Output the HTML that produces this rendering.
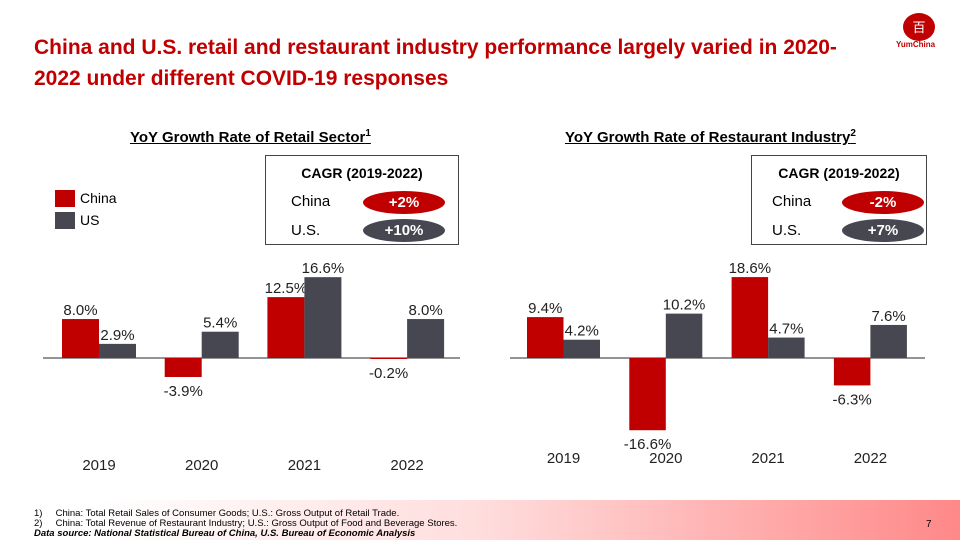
<!DOCTYPE html>
<html><head><meta charset="utf-8"><style>
body{margin:0;width:960px;height:540px;overflow:hidden;background:#fff;font-family:"Liberation Sans",Arial,sans-serif;position:relative}
.abs{position:absolute}
#title{left:34px;top:32px;width:840px;color:#c00000;font-weight:bold;font-size:21px;line-height:31px}
.ct{font-weight:bold;font-size:15px;text-decoration:underline;top:128px}
.ct sup{font-size:10px}
.box{border:1.5px solid #444;top:155px;height:88px}
.box .h{position:absolute;top:9px;left:0;right:0;text-align:center;font-weight:bold;font-size:14px}
.lbl{position:absolute;font-size:15px}
.pill{position:absolute;width:82px;height:23px;border-radius:50%;color:#fff;font-weight:bold;font-size:15px;text-align:center;line-height:23px}
#footer{left:0;top:500px;width:960px;height:40px;background:linear-gradient(90deg,#fff 10%,#fdd 50%,#f88 100%)}
.fn{font-size:9.5px;left:34px}
</style></head><body>
<div id="title" class="abs">China and U.S. retail and restaurant industry performance largely varied in 2020-2022 under different COVID-19 responses</div>
<div class="abs" style="left:903px;top:13px;width:32px;height:28px;border-radius:50%;background:#c00000;color:#fff;font-size:13px;text-align:center;line-height:28px;font-family:'Noto Sans CJK SC',sans-serif">百</div>
<div class="abs" style="left:896px;top:40px;font-size:8px;font-weight:bold;color:#c00000">YumChina</div>

<div class="abs ct" style="left:130px">YoY Growth Rate of Retail Sector<sup>1</sup></div>
<div class="abs ct" style="left:565px">YoY Growth Rate of Restaurant Industry<sup>2</sup></div>

<div class="abs" style="left:55px;top:190px"><div style="position:absolute;width:20px;height:17px;background:#c00000"></div><span style="position:absolute;left:25px;top:0;font-size:14px">China</span></div>
<div class="abs" style="left:55px;top:212px"><div style="position:absolute;width:20px;height:17px;background:#474752"></div><span style="position:absolute;left:25px;top:0;font-size:14px">US</span></div>

<div class="abs box" style="left:265px;width:192px">
<div class="h">CAGR (2019-2022)</div>
<div class="lbl" style="left:25px;top:37px">China</div>
<div class="lbl" style="left:25px;top:66px">U.S.</div>
<div class="pill" style="left:97px;top:35px;background:#c00000">+2%</div>
<div class="pill" style="left:97px;top:63px;background:#474752">+10%</div>
</div>
<div class="abs box" style="left:751px;width:174px">
<div class="h">CAGR (2019-2022)</div>
<div class="lbl" style="left:20px;top:37px">China</div>
<div class="lbl" style="left:20px;top:66px">U.S.</div>
<div class="pill" style="left:90px;top:35px;background:#c00000">-2%</div>
<div class="pill" style="left:90px;top:63px;background:#474752">+7%</div>
</div>

<svg id="chart" class="abs" style="left:0;top:0" width="960" height="540"></svg>

<div id="footer" class="abs"></div>
<div class="abs fn" style="top:508px">1)&nbsp;&nbsp;&nbsp;&nbsp;&nbsp;China: Total Retail Sales of Consumer Goods; U.S.: Gross Output of Retail Trade.</div>
<div class="abs fn" style="top:518px">2)&nbsp;&nbsp;&nbsp;&nbsp;&nbsp;China: Total Revenue of Restaurant Industry; U.S.: Gross Output of Food and Beverage Stores.</div>
<div class="abs fn" style="top:528px;font-weight:bold;font-style:italic">Data source: National Statistical Bureau of China, U.S. Bureau of Economic Analysis</div>
<div class="abs" style="left:926px;top:519px;font-size:10px">7</div>

<script>
const years = ["2019","2020","2021","2022"];
const retailChina = [8.0, -3.9, 12.5, -0.2];
const retailUS = [2.9, 5.4, 16.6, 8.0];
const restChina = [9.4, -16.6, 18.6, -6.3];
const restUS = [4.2, 10.2, 4.7, 7.6];

const svg = document.getElementById('chart');
const NS = 'http://www.w3.org/2000/svg';
function mk(tag, attrs){const e=document.createElementNS(NS,tag);for(const k in attrs)e.setAttribute(k,attrs[k]);svg.appendChild(e);return e;}
function draw(cfg, china, us, prefix){
  const y = v => cfg.base - v*cfg.scale;
  const x = i => cfg.x0 + i*cfg.step;
  const ln = mk('line',{x1:cfg.l,x2:cfg.r,y1:cfg.base,y2:cfg.base,stroke:'#555','stroke-width':1.2});
  
  
  [[china,'#c00000',0,'china'],[us,'#474752',1,'us']].forEach(([arr,col,off,nm])=>{
    arr.forEach((v,i)=>{
      const bx = x(i)+off*cfg.bw;
      const r = mk('rect',{x:bx,y:Math.min(y(v),cfg.base),width:cfg.bw,height:Math.max(Math.abs(v*cfg.scale),1),fill:col});
      
      
      const t = mk('text',{x:bx+cfg.bw/2,y:v>=0?y(v)-4:y(v)+19,'text-anchor':'middle','font-size':15,fill:'#222'});
      t.textContent = v.toFixed(1)+'%';
      
      
    });
  });
  years.forEach((yr,i)=>{
    const t = mk('text',{x:x(i)+cfg.bw,y:cfg.catY,'text-anchor':'middle','font-size':15,fill:'#222'});
    t.textContent = yr;
    
    
  });
}
draw({base:358,scale:4.87,x0:62,step:102.7,bw:37,l:43,r:460,catY:470},retailChina,retailUS,'retail');
draw({base:358,scale:4.35,x0:527,step:102.3,bw:36.5,l:510,r:925,catY:463},restChina,restUS,'restaurant');
</script>
</body></html>
